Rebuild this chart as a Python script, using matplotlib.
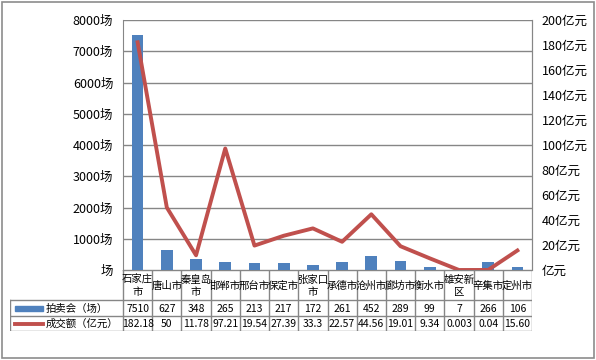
import matplotlib
matplotlib.use("Agg")
from matplotlib import pyplot as plt
from matplotlib.patches import Rectangle
from matplotlib.lines import Line2D

plt.rcParams['font.family'] = ['Noto Sans CJK SC', 'DejaVu Sans']

# data
cities = ['石家庄市', '唐山市', '秦皇岛市', '邯郸市', '邢台市', '保定市', '张家口市',
          '承德市', '沧州市', '廊坊市', '衡水市', '雄安新区', '辛集市', '定州市']
city_labels = ['石家庄\n市', '唐山市', '秦皇岛\n市', '邯郸市', '邢台市', '保定市',
               '张家口\n市', '承德市', '沧州市', '廊坊市', '衡水市', '雄安新\n区',
               '辛集市', '定州市']
auctions = [7510, 627, 348, 265, 213, 217, 172, 261, 452, 289, 99, 7, 266, 106]
auction_text = ['7510', '627', '348', '265', '213', '217', '172', '261', '452',
                '289', '99', '7', '266', '106']
turnover = [182.18, 50, 11.78, 97.21, 19.54, 27.39, 33.3, 22.57, 44.56, 19.01,
            9.34, 0.003, 0.04, 15.60]
turnover_text = ['182.18', '50', '11.78', '97.21', '19.54', '27.39', '33.3', '22.57',
                 '44.56', '19.01', '9.34', '0.003', '0.04', '15.60']
left_ticks = [0, 1000, 2000, 3000, 4000, 5000, 6000, 7000, 8000]
left_labels = ['场'] + ['%d场' % v for v in left_ticks[1:]]
right_ticks = list(range(0, 201, 20))
right_labels = ['亿元'] + ['%d亿元' % v for v in right_ticks[1:]]
series_names = ['拍卖会（场）', '成交额（亿元）']

W, H = 596, 360
BLUE = '#4F81BD'
RED = '#C0504D'
GRID = '#868686'

fig = plt.figure(figsize=(W / 100, H / 100), dpi=100)
fig.patch.set_facecolor('white')

# outer chart border
fig.add_artist(Rectangle((1.5 / W, 1 - 357.5 / H), 592 / W, 356 / H,
                         transform=fig.transFigure, fill=False,
                         edgecolor='#8C8C8C', linewidth=1.2))

px_l, px_r, px_t, px_b = 123, 532, 20, 270
ax = fig.add_axes([px_l / W, 1 - px_b / H, (px_r - px_l) / W, (px_b - px_t) / H])
n = len(cities)
xs = list(range(n))
ax.bar(xs, auctions, width=0.4, color=BLUE, zorder=2)
ax.set_xlim(-0.5, n - 0.5)
ax.set_ylim(0, 8000)
ax.set_yticks(left_ticks)
ax.set_yticklabels(left_labels, fontsize=9)
ax.set_xticks([])
ax.tick_params(axis='y', length=0, pad=7)
ax.yaxis.grid(True, color=GRID, linewidth=1)
ax.set_axisbelow(True)
for s in ['top', 'bottom']:
    ax.spines[s].set_visible(False)
for s in ['left', 'right']:
    ax.spines[s].set_color(GRID)

ax2 = ax.twinx()
ax2.plot(xs, turnover, color=RED, linewidth=2.8, zorder=3)
ax2.set_ylim(0, 200)
ax2.set_yticks(right_ticks)
ax2.set_yticklabels(right_labels, fontsize=9)
ax2.tick_params(axis='y', length=0, pad=7)
for s in ['top', 'bottom', 'left']:
    ax2.spines[s].set_visible(False)
ax2.spines['right'].set_color(GRID)

# data table under the plot
tb_l, tb_b = 10, 331
x0 = -0.5 - (px_l - tb_l) * n / (px_r - px_l)
tax = fig.add_axes([tb_l / W, 1 - tb_b / H, (px_r - tb_l) / W, (tb_b - px_b) / H])
tax.set_xlim(x0, n - 0.5)
tax.set_ylim(tb_b - px_b, 0)
tax.axis('off')
rows = [0, 30, 46, 61]
lc = dict(color=GRID, linewidth=1)
for y in rows:
    xa = -0.5 if y == 0 else x0
    tax.add_line(Line2D([xa, n - 0.5], [y, y], **lc))
for i in range(n + 1):
    tax.add_line(Line2D([i - 0.5, i - 0.5], [0, 61], **lc))
tax.add_line(Line2D([x0, x0], [30, 61], **lc))

for i in xs:
    tax.text(i, 15.5, city_labels[i], ha='center', va='center', fontsize=7.5,
             linespacing=1.25)
    tax.text(i, 38.5, auction_text[i], ha='center', va='center', fontsize=7.5)
    tax.text(i, 54, turnover_text[i], ha='center', va='center', fontsize=7.5)

# legend keys inside the table
k = n / (px_r - px_l)
tax.add_patch(Rectangle((x0 + 5 * k, 36), 28 * k, 5, color=BLUE))
tax.add_line(Line2D([x0 + 5 * k, x0 + 33 * k], [53.5, 53.5], color=RED, linewidth=2.8))
tax.text(x0 + 36 * k, 38.5, series_names[0], ha='left', va='center', fontsize=7.5)
tax.text(x0 + 36 * k, 54, series_names[1], ha='left', va='center', fontsize=7.5)

fig.savefig('out.png', dpi=100)
